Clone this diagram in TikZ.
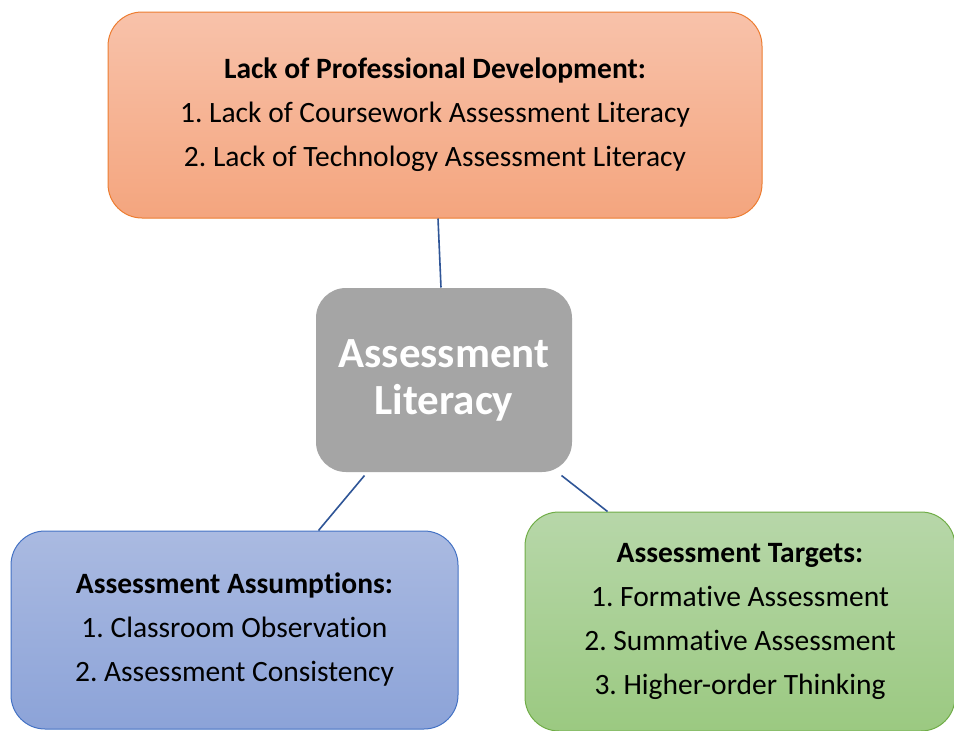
\documentclass[tikz,border=0pt]{standalone}
\usepackage{fontspec}
\setmainfont{Carlito}[Ligatures={NoCommon}]
\frenchspacing
\usetikzlibrary{calc}
\definecolor{orBorder}{HTML}{ED7D31}
\definecolor{orTop}{HTML}{F8C2AA}
\definecolor{orBot}{HTML}{F4A57E}
\definecolor{blBorder}{HTML}{4472C4}
\definecolor{blTop}{HTML}{AABAE1}
\definecolor{blBot}{HTML}{8CA3D8}
\definecolor{grBorder}{HTML}{70AD47}
\definecolor{grTop}{HTML}{B7D7A9}
\definecolor{grBot}{HTML}{9BC981}
\definecolor{grayFill}{HTML}{A5A5A5}
\definecolor{linkBlue}{HTML}{2F5597}
\begin{document}
\begin{tikzpicture}[x=1pt,y=-1pt,
  box/.style={rectangle, rounded corners=34pt, line width=1pt, align=center,
    inner sep=0pt, font=\fontsize{29.5}{44}\selectfont, text=black},
  link/.style={draw=linkBlue, line width=1.6pt}]
\clip (0,0) rectangle (954,731);
\fill[white] (0,0) rectangle (954,731);
\node[box, draw=orBorder, top color=orTop, bottom color=orBot,
  minimum width=654pt, minimum height=206pt] (pd) at (435,115)
  {\textbf{Lack of Professional Development:}\\
   1. Lack of Coursework Assessment Literacy\\
   2. Lack of Technology Assessment Literacy};
\node[box, rounded corners=30pt, fill=grayFill, text=white,
  font=\bfseries\fontsize{43}{47}\selectfont,
  minimum width=256pt, minimum height=184pt] (ctr) at (444,380)
  {Assessment\\Literacy};
\node[box, draw=blBorder, top color=blTop, bottom color=blBot,
  minimum width=447pt, minimum height=198pt] (asm) at (234.5,630)
  {\textbf{Assessment Assumptions:}\\
   1. Classroom Observation\\
   2. Assessment Consistency};
\node[box, draw=grBorder, top color=grTop, bottom color=grBot,
  minimum width=430pt, minimum height=219pt] (tgt) at (740,621.5)
  {\textbf{Assessment Targets:}\\
   1. Formative Assessment\\
   2. Summative Assessment\\
   3. Higher-order Thinking};
\draw[link] ($(pd.south)+(3,0)$) -- ($(ctr.north)+(-3,0)$);
\draw[link] ($(ctr.south west)+(49,3)$) -- ($(asm.north west)+(308,0)$);
\draw[link] ($(ctr.south east)+(-11,3)$) -- ($(tgt.north west)+(83,0)$);
\end{tikzpicture}
\end{document}
